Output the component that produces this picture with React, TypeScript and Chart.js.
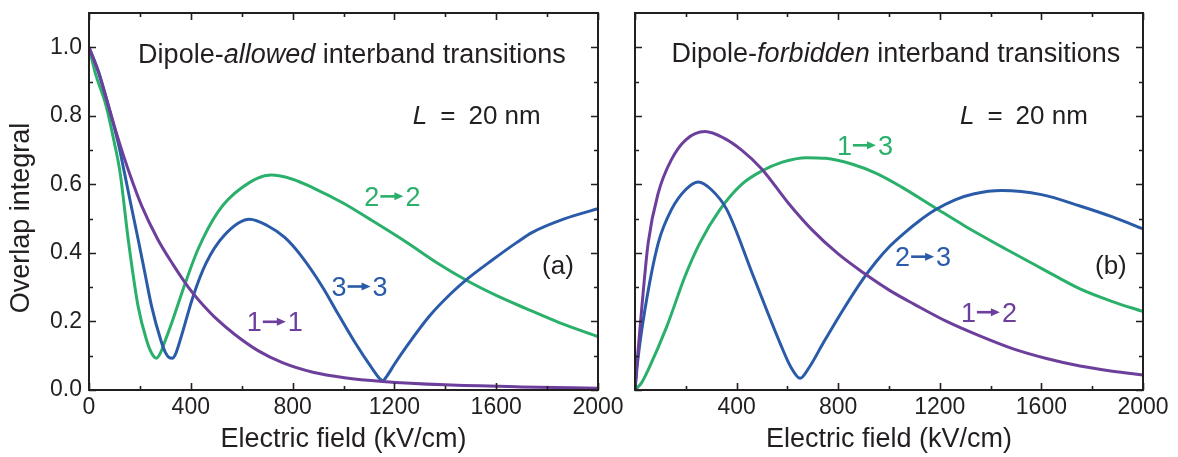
import { useEffect, useRef } from "react";
import { Chart, registerables } from "chart.js";

Chart.register(...registerables);

// ---------- data (electric field in kV/cm, overlap integral) ----------
// Panel (a): dipole-allowed transitions
const FIELD_A_11 = [0, 37, 76, 115, 160, 207, 270, 331, 376, 409, 448, 500, 573, 664, 760, 880, 1004, 1154, 1400, 1700, 2000];
const OVERLAP_A_11 = [1.0, 0.927, 0.83, 0.732, 0.63, 0.537, 0.44, 0.365, 0.315, 0.282, 0.248, 0.208, 0.162, 0.115, 0.08, 0.052, 0.036, 0.025, 0.015, 0.009, 0.005];

const FIELD_A_22 = [0, 24, 67, 100, 122, 154, 193, 226, 248, 265, 282, 300, 327, 376, 428, 507, 600, 715, 800, 880, 1000, 1100, 1246, 1370, 1488, 1600, 1716, 1850, 2000];
const OVERLAP_A_22 = [1.0, 0.927, 0.83, 0.72, 0.635, 0.44, 0.244, 0.146, 0.105, 0.093, 0.11, 0.145, 0.2, 0.307, 0.41, 0.52, 0.59, 0.627, 0.615, 0.59, 0.545, 0.5, 0.432, 0.37, 0.318, 0.276, 0.238, 0.196, 0.156];

const FIELD_A_33 = [0, 37, 76, 115, 139, 165, 193, 220, 246, 282, 300, 315, 327, 340, 360, 409, 460, 530, 631, 700, 769, 833, 918, 980, 1039, 1115, 1140, 1154, 1170, 1200, 1246, 1337, 1420, 1488, 1586, 1680, 1742, 1870, 2000];
const OVERLAP_A_33 = [1.0, 0.93, 0.83, 0.72, 0.635, 0.54, 0.44, 0.34, 0.244, 0.146, 0.11, 0.095, 0.093, 0.105, 0.15, 0.273, 0.37, 0.45, 0.498, 0.48, 0.445, 0.392, 0.3, 0.22, 0.146, 0.06, 0.035, 0.027, 0.04, 0.075, 0.125, 0.215, 0.28, 0.325, 0.38, 0.43, 0.46, 0.5, 0.529];

// Panel (b): dipole-forbidden transitions
const FIELD_B_12 = [0, 9, 26, 52, 92, 144, 200, 276, 350, 420, 499, 604, 700, 800, 899, 1004, 1100, 1227, 1350, 1489, 1620, 1752, 1880, 2000];
const OVERLAP_B_12 = [0, 0.088, 0.234, 0.43, 0.576, 0.673, 0.73, 0.754, 0.735, 0.7, 0.645, 0.545, 0.465, 0.397, 0.342, 0.29, 0.25, 0.2, 0.16, 0.12, 0.092, 0.07, 0.055, 0.044];

const FIELD_B_13 = [0, 25, 52, 125, 197, 256, 335, 420, 499, 580, 676, 750, 850, 950, 1050, 1181, 1300, 1463, 1600, 1752, 1880, 2000];
const OVERLAP_B_13 = [0, 0.02, 0.059, 0.185, 0.332, 0.43, 0.527, 0.6, 0.639, 0.665, 0.678, 0.676, 0.66, 0.632, 0.592, 0.532, 0.478, 0.41, 0.355, 0.295, 0.258, 0.229];

const FIELD_B_23 = [0, 10, 39, 92, 144, 200, 249, 300, 361, 466, 571, 615, 650, 685, 741, 820, 899, 950, 1004, 1060, 1120, 1181, 1260, 1332, 1444, 1600, 1752, 1880, 2000];
const OVERLAP_B_23 = [0, 0.08, 0.234, 0.43, 0.527, 0.585, 0.607, 0.585, 0.527, 0.332, 0.137, 0.065, 0.034, 0.065, 0.137, 0.235, 0.325, 0.375, 0.42, 0.458, 0.494, 0.525, 0.555, 0.572, 0.582, 0.57, 0.537, 0.505, 0.47];

// ---------- ticks ----------
const X_LABELS_A = [0, 400, 800, 1200, 1600, 2000];
const X_LABELS_B = [400, 800, 1200, 1600, 2000];
const Y_LABELS = [0, 0.2, 0.4, 0.6, 0.8, 1.0];
const X_MAJOR = [0, 400, 800, 1200, 1600, 2000];
const X_MINOR = [200, 600, 1000, 1400, 1800];
const Y_MAJOR = [0, 0.2, 0.4, 0.6, 0.8, 1.0];
const Y_MINOR = [0.1, 0.3, 0.5, 0.7, 0.9];

// ---------- text ----------
const X_TITLE = "Electric field (kV/cm)";
const Y_TITLE = "Overlap integral";

// ---------- styles ----------
const INK = "#231f20";
const GREEN = "#2bb06b";
const BLUE = "#2a5ba8";
const PURPLE = "#6d3f9c";
const FONT = "'Liberation Sans', Arial, Helvetica, sans-serif";
const W = 1178;
const H = 457;

type Part = { text: string; italic?: boolean; gap?: number };
type Note =
  | { kind: "text"; parts: Part[]; x: number; y: number; align: "left" | "right"; color: string; size: number }
  | { kind: "trans"; from: string; to: string; x: number; y: number; color: string; size: number };

const NOTES_A: Note[] = [
  { kind: "text", parts: [{ text: "Dipole-" }, { text: "allowed", italic: true }, { text: " interband transitions" }], x: 193, y: 0.981, align: "left", color: INK, size: 27 },
  { kind: "text", parts: [{ text: "L", italic: true }, { text: "=", gap: 13 }, { text: "20 nm", gap: 13 }], x: 1775, y: 0.802, align: "right", color: INK, size: 26 },
  { kind: "text", parts: [{ text: "(a)" }], x: 1780, y: 0.366, align: "left", color: INK, size: 26 },
  { kind: "trans", from: "2", to: "2", x: 1082, y: 0.565, color: GREEN, size: 27 },
  { kind: "trans", from: "3", to: "3", x: 953, y: 0.302, color: BLUE, size: 27 },
  { kind: "trans", from: "1", to: "1", x: 620, y: 0.199, color: PURPLE, size: 27 },
];

const NOTES_B: Note[] = [
  { kind: "text", parts: [{ text: "Dipole-" }, { text: "forbidden", italic: true }, { text: " interband transitions" }], x: 144, y: 0.984, align: "left", color: INK, size: 27 },
  { kind: "text", parts: [{ text: "L", italic: true }, { text: "=", gap: 13 }, { text: "20 nm", gap: 13 }], x: 1783, y: 0.802, align: "right", color: INK, size: 26 },
  { kind: "text", parts: [{ text: "(b)" }], x: 1811, y: 0.366, align: "left", color: INK, size: 26 },
  { kind: "trans", from: "1", to: "3", x: 795, y: 0.714, color: GREEN, size: 27 },
  { kind: "trans", from: "2", to: "3", x: 1024, y: 0.389, color: BLUE, size: 27 },
  { kind: "trans", from: "1", to: "2", x: 1283, y: 0.227, color: PURPLE, size: 27 },
];

function pts(xs: number[], ys: number[]) {
  return xs.map((x, i) => ({ x, y: ys[i] }));
}

function ds(label: string, xs: number[], ys: number[], color: string) {
  return {
    label,
    data: pts(xs, ys),
    borderColor: color,
    backgroundColor: color,
    borderWidth: 3,
    pointRadius: 0,
    cubicInterpolationMode: "monotone" as const,
    fill: false,
  };
}

const framePlugin = {
  id: "frameTicks",
  afterDatasetsDraw(chart: any) {
    const { ctx, chartArea: a, scales } = chart;
    const xs = scales.x;
    const ys = scales.y;
    ctx.save();
    ctx.strokeStyle = INK;
    ctx.lineWidth = 1.6;
    const xt = (vals: number[], len: number) => {
      vals.forEach((v) => {
        const p = Math.round(xs.getPixelForValue(v)) + 0.5;
        ctx.beginPath();
        ctx.moveTo(p, a.bottom);
        ctx.lineTo(p, a.bottom - len);
        ctx.moveTo(p, a.top);
        ctx.lineTo(p, a.top + len);
        ctx.stroke();
      });
    };
    const yt = (vals: number[], len: number) => {
      vals.forEach((v) => {
        const p = Math.round(ys.getPixelForValue(v)) + 0.5;
        ctx.beginPath();
        ctx.moveTo(a.left, p);
        ctx.lineTo(a.left + len, p);
        ctx.moveTo(a.right, p);
        ctx.lineTo(a.right - len, p);
        ctx.stroke();
      });
    };
    xt(X_MAJOR, 7);
    xt(X_MINOR, 4);
    yt(Y_MAJOR, 7);
    yt(Y_MINOR, 4);
    ctx.lineWidth = 2;
    ctx.strokeRect(a.left, a.top, a.right - a.left, a.bottom - a.top);
    ctx.restore();
  },
};

function notesPlugin(notes: Note[], showYTitle: boolean) {
  return {
    id: "notes",
    afterDraw(chart: any) {
      const { ctx, scales } = chart;
      const xs = scales.x;
      const ys = scales.y;
      ctx.save();
      ctx.textAlign = "left";
      ctx.textBaseline = "alphabetic";
      notes.forEach((n) => {
        const px = xs.getPixelForValue(n.x);
        const cy = ys.getPixelForValue(n.y);
        const base = cy + 0.358 * n.size;
        ctx.fillStyle = n.color;
        if (n.kind === "text") {
          const fontOf = (p: Part) => `${p.italic ? "italic " : ""}${n.size}px ${FONT}`;
          let total = 0;
          n.parts.forEach((p) => {
            ctx.font = fontOf(p);
            total += (p.gap || 0) + ctx.measureText(p.text).width;
          });
          let x = n.align === "left" ? px : px - total;
          n.parts.forEach((p) => {
            ctx.font = fontOf(p);
            x += p.gap || 0;
            ctx.fillText(p.text, x, base);
            x += ctx.measureText(p.text).width;
          });
        } else {
          ctx.font = `${n.size}px ${FONT}`;
          ctx.fillText(n.from, px, base);
          let x = px + ctx.measureText(n.from).width + 1;
          const ay = cy;
          const len = 23;
          const head = 9;
          const hh = 8;
          ctx.strokeStyle = n.color;
          ctx.lineWidth = 2.6;
          ctx.beginPath();
          ctx.moveTo(x, ay);
          ctx.lineTo(x + len - head + 1, ay);
          ctx.stroke();
          ctx.beginPath();
          ctx.moveTo(x + len, ay);
          ctx.lineTo(x + len - head, ay - hh / 2);
          ctx.lineTo(x + len - head, ay + hh / 2);
          ctx.closePath();
          ctx.fill();
          x += len + 2;
          ctx.fillText(n.to, x, base);
        }
      });
      if (showYTitle) {
        ctx.save();
        ctx.translate(22, 218);
        ctx.rotate(-Math.PI / 2);
        ctx.font = `27px ${FONT}`;
        ctx.fillStyle = INK;
        ctx.textAlign = "center";
        ctx.textBaseline = "middle";
        ctx.fillText(Y_TITLE, 0, 0);
        ctx.restore();
      }
      ctx.restore();
    },
  };
}

function makeConfig(panel: "a" | "b") {
  const isA = panel === "a";
  const datasets = isA
    ? [
        ds("1→1", FIELD_A_11, OVERLAP_A_11, PURPLE),
        ds("3→3", FIELD_A_33, OVERLAP_A_33, BLUE),
        ds("2→2", FIELD_A_22, OVERLAP_A_22, GREEN),
      ]
    : [
        ds("1→2", FIELD_B_12, OVERLAP_B_12, PURPLE),
        ds("2→3", FIELD_B_23, OVERLAP_B_23, BLUE),
        ds("1→3", FIELD_B_13, OVERLAP_B_13, GREEN),
      ];
  const plotLeft = isA ? 89 : 635;
  const plotRight = isA ? 598 : 1143;
  const plotTop = 13;
  const plotBottom = 390;
  return {
    type: "line" as const,
    data: { datasets },
    options: {
      responsive: false,
      animation: false as const,
      devicePixelRatio: 1,
      layout: { padding: { left: 0, right: W - plotRight, top: plotTop, bottom: 0 } },
      plugins: { legend: { display: false }, tooltip: { enabled: false }, title: { display: false } },
      scales: {
        x: {
          type: "linear" as const,
          position: "bottom" as const,
          min: 0,
          max: 2000,
          grid: { display: false, drawTicks: false },
          border: { display: false },
          afterBuildTicks: (axis: any) => {
            axis.ticks = (isA ? X_LABELS_A : X_LABELS_B).map((v) => ({ value: v }));
          },
          afterFit: (axis: any) => {
            axis.height = H - plotBottom;
            axis.paddingLeft = 0;
            axis.paddingRight = 0;
          },
          ticks: {
            color: INK,
            padding: 4,
            maxRotation: 0,
            autoSkip: false,
            font: { family: FONT, size: 23 },
            callback: (v: any) => String(v),
          },
          title: {
            display: true,
            text: X_TITLE,
            color: INK,
            font: { family: FONT, size: 27 },
            padding: { top: 0, bottom: 1 },
          },
        },
        y: {
          type: "linear" as const,
          position: "left" as const,
          min: 0,
          max: 1.1,
          grid: { display: false, drawTicks: false },
          border: { display: false },
          afterBuildTicks: (axis: any) => {
            axis.ticks = Y_LABELS.map((v) => ({ value: v }));
          },
          afterFit: (axis: any) => {
            axis.width = plotLeft;
            axis.paddingTop = 0;
            axis.paddingBottom = 0;
          },
          ticks: {
            display: isA,
            color: INK,
            padding: 7,
            autoSkip: false,
            font: { family: FONT, size: 23 },
            callback: (v: any) => Number(v).toFixed(1),
          },
          title: { display: false },
        },
      },
    },
    plugins: [framePlugin, notesPlugin(isA ? NOTES_A : NOTES_B, isA)],
  };
}

export default function App() {
  const refA = useRef<HTMLCanvasElement | null>(null);
  const refB = useRef<HTMLCanvasElement | null>(null);

  useEffect(() => {
    const a = new Chart(refA.current as HTMLCanvasElement, makeConfig("a") as any);
    const b = new Chart(refB.current as HTMLCanvasElement, makeConfig("b") as any);
    return () => {
      a.destroy();
      b.destroy();
    };
  }, []);

  const canvasStyle = { position: "absolute" as const, left: 0, top: 0, width: W, height: H };
  return (
    <div style={{ position: "absolute", left: 0, top: 0, width: W, height: H, background: "#ffffff", overflow: "hidden" }}>
      <canvas ref={refA} width={W} height={H} style={canvasStyle} />
      <canvas ref={refB} width={W} height={H} style={canvasStyle} />
    </div>
  );
}
